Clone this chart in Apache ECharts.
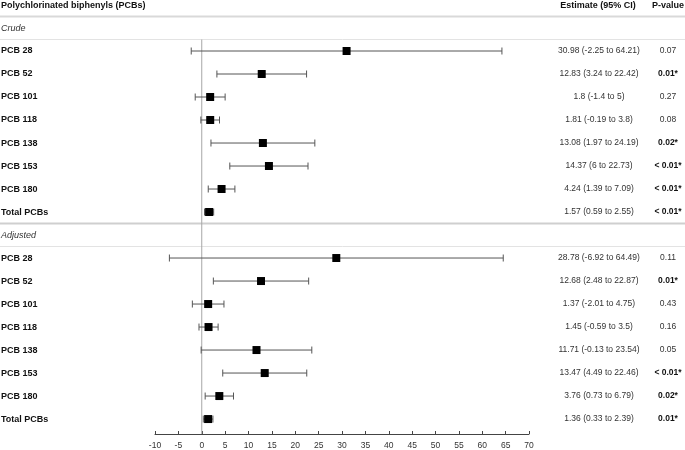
<!DOCTYPE html>
<html>
<head>
<meta charset="utf-8">
<script src="https://cdn.jsdelivr.net/npm/echarts@6/dist/echarts.min.js"></script>
<style>html,body{margin:0;padding:0;background:#fff}#c{width:685px;height:450px}</style>
</head>
<body>
<div id="c"></div>
<script>
// ---- data ----
const sections = ['Crude', 'Adjusted'];
const pcbNames = ['PCB 28', 'PCB 52', 'PCB 101', 'PCB 118', 'PCB 138', 'PCB 153', 'PCB 180', 'Total PCBs'];
const crudeEst  = [30.98, 12.83, 1.8, 1.81, 13.08, 14.37, 4.24, 1.57];
const crudeLow  = [-2.25, 3.24, -1.4, -0.19, 1.97, 6, 1.39, 0.59];
const crudeHigh = [64.21, 22.42, 5, 3.8, 24.19, 22.73, 7.09, 2.55];
const crudeP    = ['0.07', '0.01*', '0.27', '0.08', '0.02*', '< 0.01*', '< 0.01*', '< 0.01*'];
const adjEst    = [28.78, 12.68, 1.37, 1.45, 11.71, 13.47, 3.76, 1.36];
const adjLow    = [-6.92, 2.48, -2.01, -0.59, -0.13, 4.49, 0.73, 0.33];
const adjHigh   = [64.49, 22.87, 4.75, 3.5, 23.54, 22.46, 6.79, 2.39];
const adjP      = ['0.11', '0.01*', '0.43', '0.16', '0.05', '< 0.01*', '0.02*', '0.01*'];
const headers = ['Polychlorinated biphenyls (PCBs)', 'Estimate (95% CI)', 'P-value'];
const xTicks = [-10, 70, 5];

// ---- build rows ----
const rows = [];
const groups = [
  {name: sections[0], est: crudeEst, low: crudeLow, high: crudeHigh, p: crudeP},
  {name: sections[1], est: adjEst, low: adjLow, high: adjHigh, p: adjP}
];
groups.forEach(g => {
  rows.push({type: 'section', label: g.name});
  pcbNames.forEach((n, i) => {
    rows.push({type: 'item', label: n, est: g.est[i], low: g.low[i], high: g.high[i], p: g.p[i]});
  });
});
const itemRows = [];
rows.forEach((r, idx) => { if (r.type === 'item') itemRows.push({r, idx}); });

const FONT = "'Liberation Sans', Arial, Helvetica, sans-serif";
const EST_X = 599, P_X = 668;

const chart = echarts.init(document.getElementById('c'), null, {renderer: 'canvas'});

const textData = [[0, -1, -1]].concat(rows.map((r, i) => [0, i, i]));
const sepData = [[-0.5, 0], [0.5, 1], [8.5, 2], [9.5, 1]];
const sepStyles = [
  {stroke: '#d9d9d9', lineWidth: 2},
  {stroke: '#e3e3e3', lineWidth: 1},
  {stroke: '#cfcfcf', lineWidth: 2}
];

chart.setOption({
  animation: false,
  backgroundColor: '#fff',
  grid: {left: 155, right: 156, top: 5, bottom: 16, containLabel: false},
  xAxis: {
    type: 'value', min: xTicks[0], max: xTicks[1], interval: xTicks[2],
    position: 'bottom',
    axisLine: {show: true, onZero: false, lineStyle: {color: '#444', width: 1}},
    axisTick: {show: true, inside: true, length: 3, lineStyle: {color: '#444'}},
    axisLabel: {color: '#333', fontSize: 8.5, fontFamily: FONT, margin: 7},
    splitLine: {show: false}
  },
  yAxis: {
    type: 'value', min: -1, max: 17.65, inverse: true, show: false,
    splitLine: {show: false}
  },
  series: [
    {
      type: 'custom', name: 'separators', silent: true, z: 1,
      data: sepData,
      renderItem: function (params, api) {
        const y = api.coord([0, api.value(0)])[1];
        const st = sepStyles[api.value(1)];
        return {type: 'line', shape: {x1: 0, y1: y, x2: api.getWidth(), y2: y}, style: {stroke: st.stroke, lineWidth: st.lineWidth}};
      }
    },
    {
      type: 'custom', name: 'zero', silent: true, z: 2,
      data: [[0, 0.5, 17.65]],
      renderItem: function (params, api) {
        const a = api.coord([api.value(0), api.value(1)]);
        const b = api.coord([api.value(0), api.value(2)]);
        return {type: 'line', shape: {x1: a[0], y1: a[1], x2: b[0], y2: b[1]}, style: {stroke: '#a6a6a6', lineWidth: 1}};
      }
    },
    {
      type: 'custom', name: 'ci', silent: true, z: 3,
      data: itemRows.map(o => [o.r.low, o.r.high, o.idx]),
      renderItem: function (params, api) {
        const a = api.coord([api.value(0), api.value(2)]);
        const b = api.coord([api.value(1), api.value(2)]);
        const h = 3.5, st = {stroke: '#555', lineWidth: 1};
        return {type: 'group', children: [
          {type: 'line', shape: {x1: a[0], y1: a[1], x2: b[0], y2: b[1]}, style: st},
          {type: 'line', shape: {x1: a[0], y1: a[1] - h, x2: a[0], y2: a[1] + h}, style: st},
          {type: 'line', shape: {x1: b[0], y1: b[1] - h, x2: b[0], y2: b[1] + h}, style: st}
        ]};
      }
    },
    {
      type: 'scatter', name: 'est', silent: true, z: 4,
      symbol: 'rect', symbolSize: 8,
      itemStyle: {color: '#000', opacity: 1},
      data: itemRows.map(o => [o.r.est, o.idx])
    },
    {
      type: 'custom', name: 'texts', silent: true, z: 5,
      data: textData,
      renderItem: function (params, api) {
        const idx = api.value(2);
        const y = api.coord([0, api.value(1)])[1];
        const children = [];
        if (idx === -1) {
          children.push({type: 'text', style: {text: headers[0], x: 1, y: y + 1, align: 'left', verticalAlign: 'middle', font: 'bold 9px ' + FONT, fill: '#111'}});
          children.push({type: 'text', style: {text: headers[1], x: EST_X - 1, y: y + 1, align: 'center', verticalAlign: 'middle', font: 'bold 9px ' + FONT, fill: '#111'}});
          children.push({type: 'text', style: {text: headers[2], x: P_X, y: y + 1, align: 'center', verticalAlign: 'middle', font: 'bold 9px ' + FONT, fill: '#111'}});
        } else {
          const r = rows[idx];
          if (r.type === 'section') {
            children.push({type: 'text', style: {text: r.label, x: 1, y: y, align: 'left', verticalAlign: 'middle', font: 'italic 9px ' + FONT, fill: '#333'}});
          } else {
            children.push({type: 'text', style: {text: r.label, x: 1, y: y, align: 'left', verticalAlign: 'middle', font: 'bold 9px ' + FONT, fill: '#111'}});
            const estText = r.est + ' (' + r.low + ' to ' + r.high + ')';
            children.push({type: 'text', style: {text: estText, x: EST_X, y: y, align: 'center', verticalAlign: 'middle', font: '8.5px ' + FONT, fill: '#333'}});
            const sig = r.p.indexOf('*') >= 0;
            children.push({type: 'text', style: {text: r.p, x: P_X, y: y, align: 'center', verticalAlign: 'middle', font: (sig ? 'bold ' : '') + '8.5px ' + FONT, fill: sig ? '#111' : '#333'}});
          }
        }
        return {type: 'group', children: children};
      }
    }
  ]
});
</script>
</body>
</html>
